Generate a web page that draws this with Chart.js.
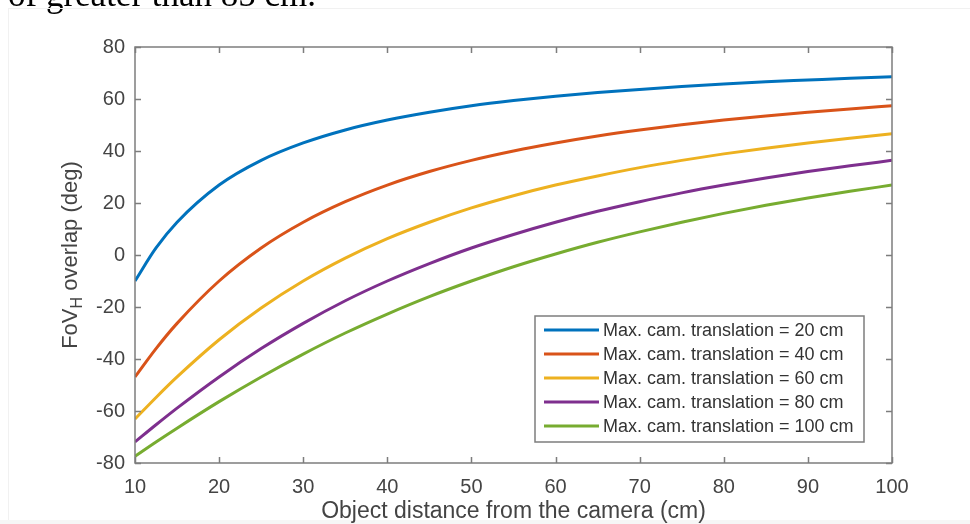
<!DOCTYPE html>
<html>
<head>
<meta charset="utf-8">
<script src="https://cdn.jsdelivr.net/npm/chart.js@4.4.1/dist/chart.umd.min.js"></script>
<style>
  html, body { margin: 0; padding: 0; background: #fff; }
  #wrap { position: relative; width: 970px; height: 524px; }
</style>
</head>
<body>
<div id="wrap"><canvas id="fovChart" width="970" height="524"></canvas></div>
<script>
// object distance (cm)
var distances = [10, 12.5, 15, 20, 25, 30, 35, 40, 45, 50, 55, 60, 65, 70, 75, 80, 85, 90, 95, 100];

// FoV_H overlap (deg), one list per max. camera translation
var trans20  = [-10, 2.7, 12.6, 26.9, 36.4, 43.1, 48.1, 51.9, 54.9, 57.4, 59.4, 61.1, 62.5, 63.7, 64.8, 65.75, 66.6, 67.3, 68.0, 68.6];
var trans40  = [-46.9, -36.0, -26.3, -10, 2.7, 12.6, 20.5, 26.9, 32.1, 36.4, 40.0, 43.1, 45.8, 48.1, 50.1, 51.9, 53.5, 54.9, 56.2, 57.4];
var trans60  = [-63.1, -54.8, -46.9, -32.6, -20.4, -10, -1.2, 6.3, 12.6, 18.1, 22.8, 26.9, 30.4, 33.6, 36.4, 38.9, 41.1, 43.1, 44.9, 46.6];
var trans80  = [-71.9, -65.3, -58.9, -46.9, -36.0, -26.3, -17.6, -10, -3.3, 2.7, 7.9, 12.6, 16.8, 20.5, 23.9, 26.9, 29.6, 32.1, 34.3, 36.4];
var trans100 = [-77.4, -71.9, -66.6, -56.4, -46.9, -38.1, -30.0, -22.7, -16.0, -10, -4.5, 0.4, 4.9, 8.9, 12.6, 16.0, 19.1, 21.9, 24.5, 26.9];

var seriesLabels = [
  'Max. cam. translation = 20 cm',
  'Max. cam. translation = 40 cm',
  'Max. cam. translation = 60 cm',
  'Max. cam. translation = 80 cm',
  'Max. cam. translation = 100 cm'
];
var xTicks = [10, 20, 30, 40, 50, 60, 70, 80, 90, 100];
var yTicks = [-80, -60, -40, -20, 0, 20, 40, 60, 80];

var colors = ['#0072BD', '#D95319', '#EDB120', '#7E2F8E', '#77AC30'];
var allSeries = [trans20, trans40, trans60, trans80, trans100];

function toPoints(arr) {
  return arr.map(function (v, i) { return { x: distances[i], y: v }; });
}

var axisGray = '#7d7d7d';
var textGray = '#444444';

// box, inward ticks, axis titles, legend inside the plot
var matlabAxes = {
  id: 'matlabAxes',
  beforeDraw: function (chart) {
    var c = chart.ctx;
    c.save();
    // cut-off caption line from the page above
    c.fillStyle = '#000';
    c.font = '35px "Liberation Serif"';
    c.textBaseline = 'alphabetic';
    c.fillText('of greater than 85 cm.', 8, 6);
    // faint frame around the figure
    c.strokeStyle = '#f1f1f1';
    c.lineWidth = 1;
    c.strokeRect(8.5, 8.5, 980, 540);
    c.fillStyle = '#f6f6f6';
    c.fillRect(0, 520, 970, 4);
    c.restore();
  },
  afterDatasetsDraw: function (chart) {
    var c = chart.ctx;
    var a = chart.chartArea;
    var xs = chart.scales.x, ys = chart.scales.y;
    c.save();
    c.strokeStyle = axisGray;
    c.lineWidth = 1.5;
    c.strokeRect(a.left, a.top, a.right - a.left, a.bottom - a.top);
    c.beginPath();
    xTicks.forEach(function (t) {
      var px = Math.round(xs.getPixelForValue(t)) + 0.5;
      c.moveTo(px, a.bottom); c.lineTo(px, a.bottom - 6);
      c.moveTo(px, a.top); c.lineTo(px, a.top + 6);
    });
    yTicks.forEach(function (t) {
      var py = Math.round(ys.getPixelForValue(t)) + 0.5;
      c.moveTo(a.left, py); c.lineTo(a.left + 6, py);
      c.moveTo(a.right, py); c.lineTo(a.right - 6, py);
    });
    c.stroke();

    // x title
    c.fillStyle = textGray;
    c.font = '23px "Liberation Sans"';
    c.textAlign = 'center';
    c.textBaseline = 'middle';
    c.fillText('Object distance from the camera (cm)', (a.left + a.right) / 2, 512);

    // y title with subscript H
    c.save();
    c.translate(71, (a.top + a.bottom) / 2);
    c.rotate(-Math.PI / 2);
    var big = '22px "Liberation Sans"', small = '16px "Liberation Sans"';
    c.font = big;
    var w1 = c.measureText('FoV').width;
    var w3 = c.measureText(' overlap (deg)').width;
    c.font = small;
    var w2 = c.measureText('H').width;
    var start = -(w1 + w2 + w3) / 2;
    c.textAlign = 'left';
    c.textBaseline = 'middle';
    c.font = big;
    c.fillText('FoV', start, 0);
    c.font = small;
    c.fillText('H', start + w1, 7);
    c.font = big;
    c.fillText(' overlap (deg)', start + w1 + w2, 0);
    c.restore();

    // legend box
    var lx = 535, ly = 316, lw = 329, lh = 126;
    c.fillStyle = '#fff';
    c.fillRect(lx, ly, lw, lh);
    c.strokeStyle = axisGray;
    c.lineWidth = 1.5;
    c.strokeRect(lx, ly, lw, lh);
    c.font = '18px "Liberation Sans"';
    c.textAlign = 'left';
    c.textBaseline = 'middle';
    chart.data.datasets.forEach(function (ds, i) {
      var y = ly + 14 + i * 24;
      c.strokeStyle = ds.borderColor;
      c.lineWidth = 3;
      c.beginPath();
      c.moveTo(lx + 9, y); c.lineTo(lx + 64, y);
      c.stroke();
      c.fillStyle = '#333';
      c.fillText(ds.label, lx + 68, y + 1);
    });
    c.restore();
  }
};

var ctx = document.getElementById('fovChart').getContext('2d');
var chart = new Chart(ctx, {
  type: 'line',
  data: {
    datasets: allSeries.map(function (s, i) {
      return {
        label: seriesLabels[i],
        data: toPoints(s),
        borderColor: colors[i],
        backgroundColor: colors[i],
        borderWidth: 3,
        pointRadius: 0,
        fill: false,
        cubicInterpolationMode: 'monotone'
      };
    })
  },
  options: {
    responsive: false,
    animation: false,
    events: [],
    layout: { padding: { top: 47, right: 78, left: 0, bottom: 0 } },
    plugins: { legend: { display: false }, tooltip: { enabled: false } },
    scales: {
      x: {
        type: 'linear',
        min: 10, max: 100,
        afterFit: function (s) { s.height = 61; },
        afterBuildTicks: function (s) { s.ticks = xTicks.map(function (v) { return { value: v }; }); },
        grid: { display: false },
        border: { display: false },
        ticks: { color: textGray, font: { family: 'Liberation Sans', size: 20 }, padding: 4, maxRotation: 0 }
      },
      y: {
        min: -80, max: 80,
        afterFit: function (s) { s.width = 135; },
        afterBuildTicks: function (s) { s.ticks = yTicks.map(function (v) { return { value: v }; }); },
        grid: { display: false },
        border: { display: false },
        ticks: { color: textGray, font: { family: 'Liberation Sans', size: 20 }, padding: 2 }
      }
    }
  },
  plugins: [matlabAxes]
});
</script>
</body>
</html>
